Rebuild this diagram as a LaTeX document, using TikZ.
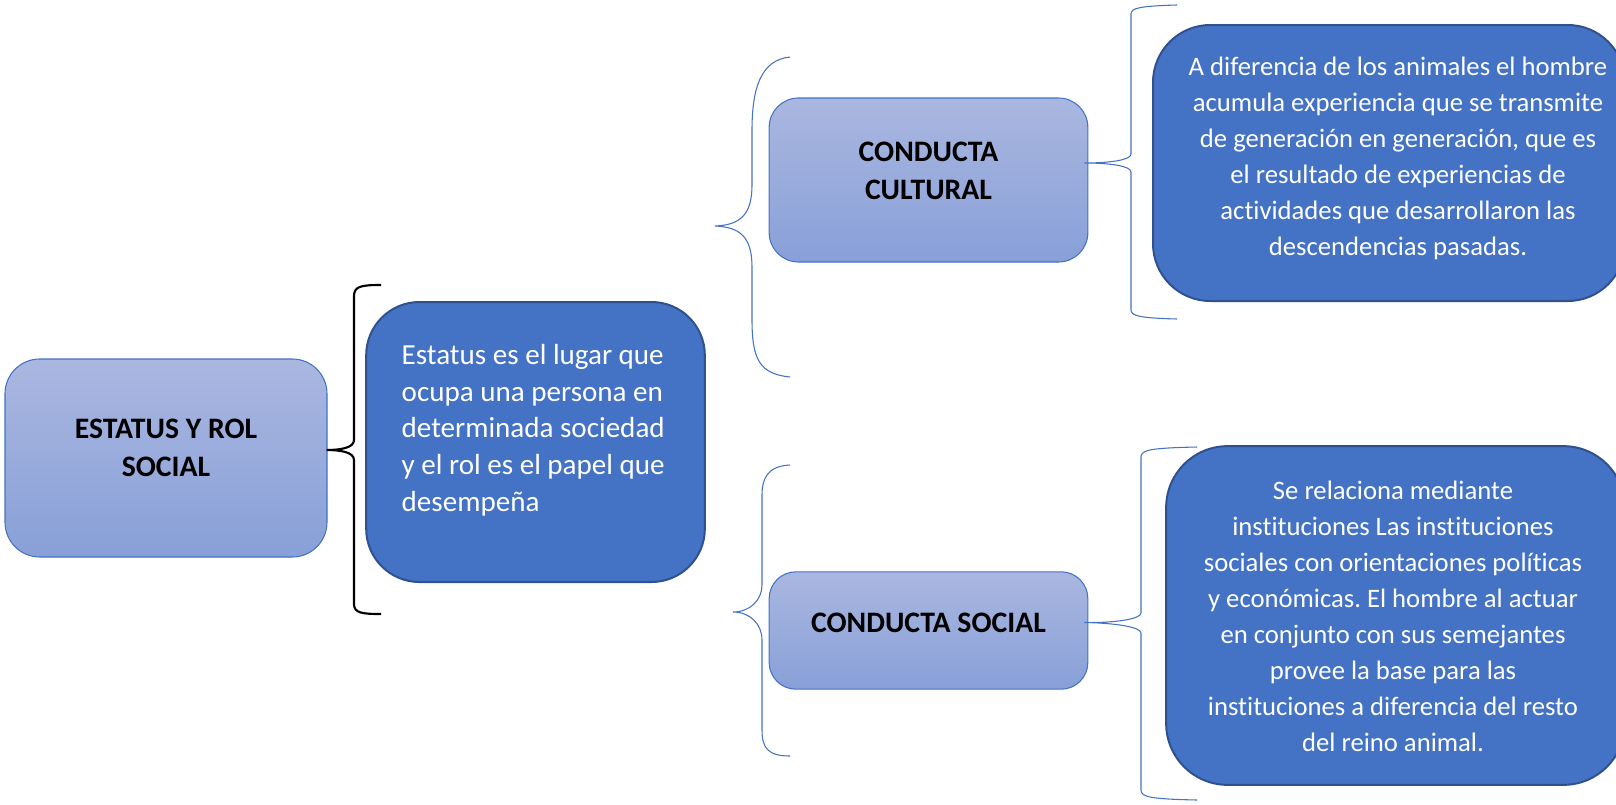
\documentclass[tikz,border=0pt]{standalone}
\usepackage{fontspec}
\setmainfont{Carlito}[Ligatures={NoCommon}]
\usetikzlibrary{calc}
\definecolor{accent}{RGB}{68,114,196}
\definecolor{accentdark}{RGB}{47,82,143}
\definecolor{lighttop}{RGB}{170,183,224}
\definecolor{lightbot}{RGB}{136,160,216}
\frenchspacing
\begin{document}
\begin{tikzpicture}[x=0.75pt,y=-0.75pt,
  lightbox/.style={draw=accent, line width=0.8pt, top color=lighttop, bottom color=lightbot, inner sep=0pt},
  darkbox/.style={draw=accentdark, line width=1.5pt, fill=accent, inner sep=0pt},
  titletext/.style={font=\fontsize{22.3}{28}\selectfont\bfseries, align=center, text=black},
  bodytext/.style={font=\fontsize{20}{27}\selectfont, align=center, text=white},
  bluebrace/.style={draw=accent, line width=0.8pt},
  blackbrace/.style={draw=black, line width=1.6pt}]
\useasboundingbox (0,0) rectangle (1616,804);

% boxes
\node[lightbox, minimum width=241.5pt, minimum height=148.5pt, rounded corners=26pt] (e1) at (166,458) {};
\node[darkbox, minimum width=254pt, minimum height=210pt, rounded corners=40pt] (e2) at (535.5,442) {};
\node[lightbox, minimum width=239pt, minimum height=123pt, rounded corners=22pt] (c1) at (928.5,180) {};
\node[lightbox, minimum width=239pt, minimum height=88pt, rounded corners=20pt] (c2) at (928.5,630.5) {};
\node[darkbox, minimum width=354pt, minimum height=207pt, rounded corners=43pt] (t1) at (1389,163) {};
\node[darkbox, minimum width=344pt, minimum height=254pt, rounded corners=46pt] (t2) at (1395.5,615.5) {};

% texts
\node[titletext] (e1t) at ($(e1.center)+(0,-10)$) {ESTATUS Y ROL\\SOCIAL};
\node[titletext] (c1t) at ($(c1.center)+(0,-9)$) {CONDUCTA\\CULTURAL};
\node[titletext] (c2t) at ($(c2.center)+(0,-8)$) {CONDUCTA SOCIAL};
\node[font=\fontsize{21.8}{27.5}\selectfont, align=left, text=white, anchor=west] (e2t) at (397,430)
  {Estatus es el lugar que\\ocupa una persona en\\determinada sociedad\\y el rol es el papel que\\desempeña};
\node[bodytext] (t1t) at (1398,158)
  {A diferencia de los animales el hombre\\acumula experiencia que se transmite\\de generación en generación, que es\\el resultado de experiencias de\\actividades que desarrollaron las\\descendencias pasadas.};
\node[bodytext] (t2t) at (1393,616)
  {Se relaciona mediante\\instituciones Las instituciones\\sociales con orientaciones políticas\\y económicas. El hombre al actuar\\en conjunto con sus semejantes\\provee la base para las\\instituciones a diferencia del resto\\del reino animal.};

% brace tips
\coordinate (k0) at ($(e1.east)+(-1,-8)$);
\coordinate (k3) at ($(c1.east)+(-4,-17)$);
\coordinate (k4) at ($(c2.east)+(-4,-8)$);

% black brace
\draw[blackbrace] (381,285) .. controls (362,285) and (354,286) .. (354,296) -- (354,440)
  .. controls (354,448) and (340,450) .. (k0)
  .. controls (340,450) and (354,452) .. (354,460) -- (354,604)
  .. controls (354,613) and (362,614) .. (381,614);

% upper blue brace
\draw[bluebrace] (790,57) .. controls (760,60) and (752,90) .. (752,130) -- (752,185)
  .. controls (752,215) and (740,225) .. (715,226)
  .. controls (740,227) and (752,237) .. (752,267) -- (752,320)
  .. controls (752,360) and (760,374) .. (790,377);

% lower blue brace
\draw[bluebrace] (790,465) .. controls (768,466) and (762,478) .. (762,495) -- (762,585)
  .. controls (762,600) and (750,612) .. (733,612)
  .. controls (750,612) and (762,624) .. (762,640) -- (762,730)
  .. controls (762,748) and (768,756) .. (790,756);

% right brace 1
\draw[bluebrace] (1177,5) .. controls (1140,6) and (1131,8) .. (1131,14) -- (1131,154)
  .. controls (1131,160) and (1110,163) .. (k3)
  .. controls (1110,163) and (1131,166) .. (1131,172) -- (1131,310)
  .. controls (1131,316) and (1140,318) .. (1177,319);

% right brace 2
\draw[bluebrace] (1197,447) .. controls (1150,448) and (1141,450) .. (1141,457) -- (1141,613)
  .. controls (1141,619) and (1115,623) .. (k4)
  .. controls (1115,623) and (1141,627) .. (1141,633) -- (1141,790)
  .. controls (1141,797) and (1150,799) .. (1197,800);
\end{tikzpicture}
\end{document}
